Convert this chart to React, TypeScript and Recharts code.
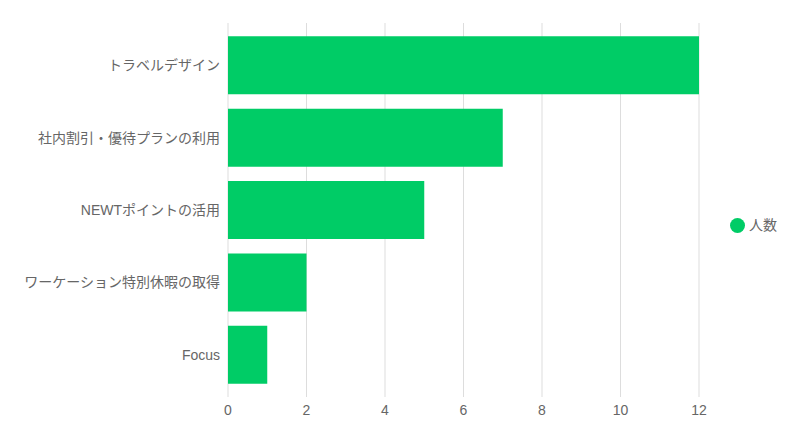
import React from "react";
import {
  BarChart,
  Bar,
  XAxis,
  YAxis,
  CartesianGrid,
  Legend,
} from "recharts";

// 施策ごとの利用人数
const categories = [
  "トラベルデザイン",
  "社内割引・優待プランの利用",
  "NEWTポイントの活用",
  "ワーケーション特別休暇の取得",
  "Focus",
];
const counts = [12, 7, 5, 2, 1];
const xTicks = [0, 2, 4, 6, 8, 10, 12];
const seriesName = "人数";

const data = categories.map((name, i) => ({ name, value: counts[i] }));

const FONT = '"Liberation Sans", "Noto Sans CJK JP", sans-serif';
const GREEN = "#00cc66";
const TEXT = "#666666";

export default function App() {
  return (
    <div style={{ position: "absolute", left: 0, top: 0, fontFamily: FONT }}>
      <BarChart
        width={797}
        height={447}
        data={data}
        layout="vertical"
        margin={{ top: 23, right: 41, bottom: 20, left: 0 }}
      >
        <CartesianGrid horizontal={false} stroke="#dddddd" />
        <XAxis
          type="number"
          domain={[0, 12]}
          ticks={xTicks}
          axisLine={false}
          tickLine={false}
          tick={{ fontSize: 14, fill: TEXT }}
          height={30}
        />
        <YAxis
          type="category"
          dataKey="name"
          width={228}
          axisLine={false}
          tickLine={false}
          padding={{ top: 6, bottom: 6 }}
          tick={{ fontSize: 14, fill: TEXT }}
        />
        <Legend
          layout="vertical"
          align="right"
          verticalAlign="middle"
          iconType="circle"
          iconSize={15}
          wrapperStyle={{ right: 10 }}
          formatter={(v) => <span style={{ color: TEXT, fontSize: 14 }}>{v}</span>}
        />
        <Bar
          dataKey="value"
          name={seriesName}
          fill={GREEN}
          isAnimationActive={false}
        />
      </BarChart>
    </div>
  );
}
